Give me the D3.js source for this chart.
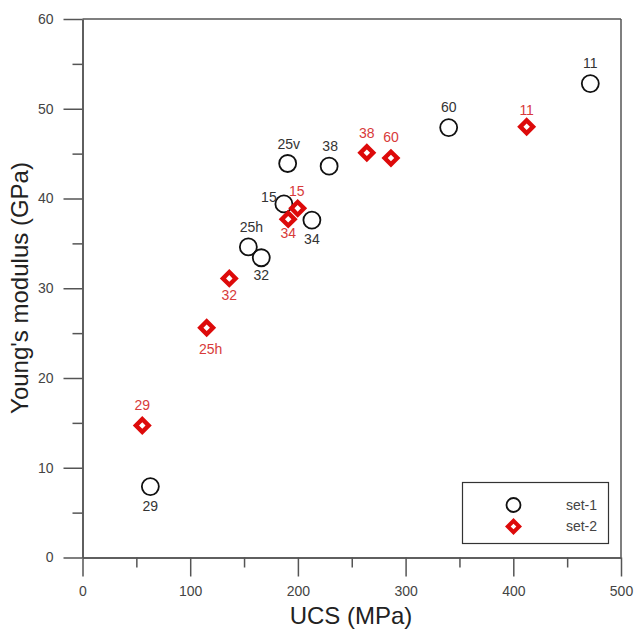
<!DOCTYPE html>
<html>
<head>
<meta charset="utf-8">
<script src="https://cdn.jsdelivr.net/npm/d3@7"></script>
<style>
body { margin: 0; background: #fff; }
text { font-family: "Liberation Sans", Arial, sans-serif; }
</style>
</head>
<body>
<script>
var W = 634, H = 630;
var AXIS_COLOR = '#555';
var TEXT_COLOR = '#444';

// set-1 (circles)
var set1Ids = ['29', '25h', '32', '15', '25v', '34', '38', '60', '11'];
var set1Ucs = [63, 154, 166, 187, 190.5, 213, 229, 340, 471.5];
var set1E = [7.9, 34.6, 33.4, 39.4, 43.9, 37.6, 43.6, 47.9, 52.8];
var set1LabelDx = [0, 3, 0, -15, 1, 0, 1, 0, 0];
var set1LabelDy = [20, -20, 17, -7, -19, 19, -20, -20, -21];

// set-2 (diamonds)
var set2Ids = ['29', '25h', '32', '34', '15', '38', '60', '11'];
var set2Ucs = [55.5, 115.3, 136.3, 191, 199.8, 264, 286.4, 412.4];
var set2E = [14.7, 25.6, 31.1, 37.7, 38.9, 45.1, 44.5, 48.0];
var set2LabelDx = [0, 4, 0, 0, -1, 0, 0, 0];
var set2LabelDy = [-20, 21, 17, 14, -17, -20, -21, -17];

var xTicks = [0, 100, 200, 300, 400, 500];
var xMinor = [50, 150, 250, 350, 450];
var yTicks = [0, 10, 20, 30, 40, 50, 60];
var yMinor = [5, 15, 25, 35, 45, 55];

var legendNames = ['set-1', 'set-2'];

var x = d3.scaleLinear().domain([0, 500]).range([82.5, 621]);
var y = d3.scaleLinear().domain([0, 60]).range([557.5, 19]);

var svg = d3.select('body').append('svg')
    .attr('width', W)
    .attr('height', H);

// frame lines
var frame = svg.append('g')
    .attr('stroke', AXIS_COLOR)
    .attr('stroke-width', 1.5)
    .attr('fill', 'none');
frame.append('line').attr('x1', x(0)).attr('x2', x(500)).attr('y1', y(60)).attr('y2', y(60));
frame.append('line').attr('x1', x(500)).attr('x2', x(500)).attr('y1', y(60)).attr('y2', y(0));

// axes
var xAxis = svg.append('g')
    .attr('transform', 'translate(0,' + y(0) + ')')
    .call(d3.axisBottom(x).tickValues(xTicks).tickSize(19).tickPadding(10).tickSizeOuter(0));
var xAxisMinor = svg.append('g')
    .attr('transform', 'translate(0,' + y(0) + ')')
    .call(d3.axisBottom(x).tickValues(xMinor).tickSize(10).tickFormat('').tickSizeOuter(0));
var yAxis = svg.append('g')
    .attr('transform', 'translate(' + x(0) + ',0)')
    .call(d3.axisLeft(y).tickValues(yTicks).tickSize(19).tickPadding(10).tickSizeOuter(0));
var yAxisMinor = svg.append('g')
    .attr('transform', 'translate(' + x(0) + ',0)')
    .call(d3.axisLeft(y).tickValues(yMinor).tickSize(10).tickFormat('').tickSizeOuter(0));

[xAxis, xAxisMinor, yAxis, yAxisMinor].forEach(function (g) {
    g.selectAll('.domain').attr('stroke', AXIS_COLOR).attr('stroke-width', 1.5);
    g.selectAll('.tick line').attr('stroke', AXIS_COLOR).attr('stroke-width', 1.5);
    g.selectAll('.tick text')
        .attr('fill', TEXT_COLOR)
        .style('font-size', '14px')
        .style('font-family', '"Liberation Sans", Arial, sans-serif');
});

// axis titles
svg.append('text')
    .attr('x', 351)
    .attr('y', 624)
    .attr('text-anchor', 'middle')
    .attr('fill', '#222')
    .style('font-size', '24px')
    .text('UCS (MPa)');
svg.append('text')
    .attr('transform', 'translate(28,288) rotate(-90)')
    .attr('text-anchor', 'middle')
    .attr('fill', '#222')
    .style('font-size', '24px')
    .text("Young's modulus (GPa)");

var diamond = d3.symbol().type(d3.symbolSquare).size(81);

var s1 = set1Ids.map(function (id, i) {
    return { id: id, ucs: set1Ucs[i], e: set1E[i], dx: set1LabelDx[i], dy: set1LabelDy[i] };
});
var s2 = set2Ids.map(function (id, i) {
    return { id: id, ucs: set2Ucs[i], e: set2E[i], dx: set2LabelDx[i], dy: set2LabelDy[i] };
});

// set-1 circles
svg.append('g').selectAll('circle')
    .data(s1)
    .enter()
    .append('circle')
    .attr('cx', function (d) { return x(d.ucs); })
    .attr('cy', function (d) { return y(d.e); })
    .attr('r', 8.5)
    .attr('fill', 'none')
    .attr('stroke', '#111')
    .attr('stroke-width', 1.8);

// set-2 diamonds
svg.append('g').selectAll('path')
    .data(s2)
    .enter()
    .append('path')
    .attr('d', diamond)
    .attr('transform', function (d) { return 'translate(' + x(d.ucs) + ',' + y(d.e) + ') rotate(45)'; })
    .attr('fill', '#fff')
    .attr('stroke', '#dd0a0a')
    .attr('stroke-width', 4.4);

svg.append('g').selectAll('text')
    .data(s1)
    .enter()
    .append('text')
    .attr('x', function (d) { return x(d.ucs) + d.dx; })
    .attr('y', function (d) { return y(d.e) + d.dy; })
    .attr('dy', '0.35em')
    .attr('text-anchor', 'middle')
    .attr('fill', '#333')
    .style('font-size', '14px')
    .text(function (d) { return d.id; });

svg.append('g').selectAll('text')
    .data(s2)
    .enter()
    .append('text')
    .attr('x', function (d) { return x(d.ucs) + d.dx; })
    .attr('y', function (d) { return y(d.e) + d.dy; })
    .attr('dy', '0.35em')
    .attr('text-anchor', 'middle')
    .attr('fill', '#d83a3a')
    .style('font-size', '14px')
    .text(function (d) { return d.id; });

// legend
var legend = svg.append('g');
legend.append('rect')
    .attr('x', 462.5)
    .attr('y', 482.5)
    .attr('width', 146)
    .attr('height', 61)
    .attr('fill', '#fff')
    .attr('stroke', '#333')
    .attr('stroke-width', 1.2);
legend.append('circle')
    .attr('cx', 513.5)
    .attr('cy', 505)
    .attr('r', 7)
    .attr('fill', 'none')
    .attr('stroke', '#111')
    .attr('stroke-width', 1.8);
legend.append('path')
    .attr('d', d3.symbol().type(d3.symbolSquare).size(64))
    .attr('transform', 'translate(513.5,526.5) rotate(45)')
    .attr('fill', '#fff')
    .attr('stroke', '#dd0a0a')
    .attr('stroke-width', 4);
legend.selectAll('.legendLabel')
    .data(legendNames)
    .enter()
    .append('text')
    .attr('class', 'legendLabel')
    .attr('x', 597)
    .attr('y', function (d, i) { return 505 + i * 21.5; })
    .attr('dy', '0.35em')
    .attr('text-anchor', 'end')
    .attr('fill', TEXT_COLOR)
    .style('font-size', '14px')
    .text(function (d) { return d; });
</script>
</body>
</html>
